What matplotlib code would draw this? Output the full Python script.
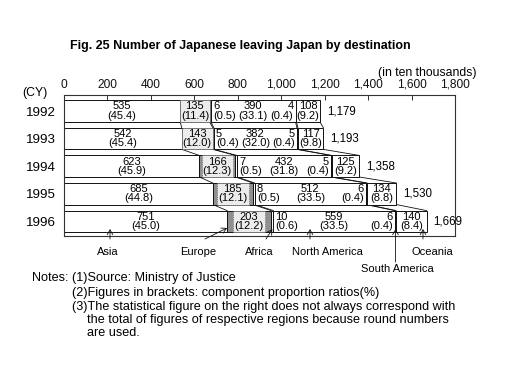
import matplotlib
matplotlib.use('Agg')
import matplotlib.pyplot as plt
from matplotlib import font_manager
import numpy as np

# ---------------- data ----------------
years = ['1992', '1993', '1994', '1995', '1996']
regions = ['Asia', 'Europe', 'Africa', 'North America', 'South America', 'Oceania']
asia = [535, 542, 623, 685, 751]
europe = [135, 143, 166, 185, 203]
africa = [6, 5, 7, 8, 10]
north_america = [390, 382, 432, 512, 559]
south_america = [4, 5, 5, 6, 6]
oceania = [108, 117, 125, 134, 140]
asia_pct = [45.4, 45.4, 45.9, 44.8, 45.0]
europe_pct = [11.4, 12.0, 12.3, 12.1, 12.2]
africa_pct = [0.5, 0.4, 0.5, 0.5, 0.6]
north_america_pct = [33.1, 32.0, 31.8, 33.5, 33.5]
south_america_pct = [0.4, 0.4, 0.4, 0.4, 0.4]
oceania_pct = [9.2, 9.8, 9.2, 8.8, 8.4]
totals = [1179, 1193, 1358, 1530, 1669]
x_ticks = [0, 200, 400, 600, 800, 1000, 1200, 1400, 1600, 1800]

title = 'Fig. 25 Number of Japanese leaving Japan by destination'
notes = ['Notes: (1)Source: Ministry of Justice',
         '(2)Figures in brackets: component proportion ratios(%)',
         '(3)The statistical figure on the right does not always correspond with',
         'the total of figures of respective regions because round numbers',
         'are used.']

# ---------------- fonts ----------------
avail = {f.name for f in font_manager.fontManager.ttflist}
base_font = 'Liberation Sans' if 'Liberation Sans' in avail else 'DejaVu Sans'
title_font = 'Liberation Sans Narrow' if 'Liberation Sans Narrow' in avail else base_font
plt.rcParams['font.family'] = [base_font, 'DejaVu Sans']

W, H = 521, 369
fig = plt.figure(figsize=(W / 100, H / 100), dpi=100)
fig.patch.set_facecolor('white')

def fx(px):
    return px / W

def fy(py):
    return 1 - py / H

ax_l, ax_r, ax_t, ax_b = 64, 455, 95, 236
ax = fig.add_axes([fx(ax_l), fy(ax_b), (ax_r - ax_l) / W, (ax_b - ax_t) / H])

series = [asia, europe, africa, north_america, south_america, oceania]
colors = ['white', '#8f8f8f', 'white', 'white', '#1a1a1a', 'white']

data = np.array(series, dtype=float)           # (6, 5)
cum = np.cumsum(data, axis=0)                  # ends of segments
starts = cum - data
y = np.arange(len(years))
h = 0.78

for k in range(len(regions)):
    ax.barh(y, data[k], left=starts[k], height=h, color=colors[k],
            edgecolor='#111111', linewidth=0.7, zorder=2)

# connecting lines between consecutive bars
for i in range(len(years) - 1):
    for k in range(len(regions)):
        ax.plot([cum[k, i], cum[k, i + 1]], [y[i] + h / 2, y[i + 1] - h / 2],
                color='#111111', lw=0.6, zorder=1)

fs = 8.0
def lab(v, p):
    return f'{v}\n({p:.1f})'

for i in range(len(years)):
    ax.text(starts[0, i] + data[0, i] / 2, y[i], lab(asia[i], asia_pct[i]),
            ha='center', va='center', fontsize=fs, linespacing=0.92, zorder=3)
    ax.text(starts[1, i] + data[1, i] / 2, y[i], lab(europe[i], europe_pct[i]),
            ha='center', va='center', fontsize=fs, linespacing=0.92, zorder=3,
            bbox=dict(boxstyle='square,pad=0.1', facecolor='#ececec',
                      edgecolor='#666666', linestyle=':', linewidth=0.6))
    ax.annotate(lab(africa[i], africa_pct[i]), xy=(cum[2, i], y[i]),
                xytext=(1.5, 0), textcoords='offset points',
                ha='left', va='center', fontsize=fs, linespacing=0.92, zorder=3)
    ax.text(starts[3, i] + data[3, i] / 2, y[i], lab(north_america[i], north_america_pct[i]),
            ha='center', va='center', fontsize=fs, linespacing=0.92, zorder=3)
    ax.annotate(lab(south_america[i], south_america_pct[i]), xy=(starts[4, i], y[i]),
                xytext=(-1.5, 0), textcoords='offset points',
                ha='right', va='center', fontsize=fs, linespacing=0.92, zorder=3)
    ax.text(starts[5, i] + data[5, i] / 2, y[i], lab(oceania[i], oceania_pct[i]),
            ha='center', va='center', fontsize=fs, linespacing=0.92, zorder=3)
    ax.annotate(f'{totals[i]:,}', xy=(totals[i], y[i]), xytext=(5, 0),
                textcoords='offset points', ha='left', va='center',
                fontsize=fs + 0.3, zorder=3)

ax.set_xlim(0, 1800)
ax.set_ylim(4.53, -0.58)
ax.xaxis.tick_top()
ax.set_xticks(x_ticks)
ax.set_xticklabels([f'{t:,}' for t in x_ticks])
ax.tick_params(axis='x', direction='in', length=3.6, width=0.6, pad=3,
               labelsize=8.6, colors='#111111')
ax.set_yticks(y)
ax.set_yticklabels(years)
ax.tick_params(axis='y', length=0, pad=6, labelsize=9.6)
for s in ax.spines.values():
    s.set_linewidth(0.8)
    s.set_color('#333333')

# ---------------- region annotations ----------------
def py2d(py):
    y0, y1 = ax.get_ylim()
    return y1 + (py - ax_t) / (ax_b - ax_t) * (y0 - y1)

def px2d(px):
    return (px - ax_l) / (ax_r - ax_l) * 1800

arrow = dict(arrowstyle='->,head_length=0.35,head_width=0.2', lw=0.6, color='#111111',
             shrinkA=0, shrinkB=0)
last = len(years) - 1
ann = [
    ('Asia', 108, 252, px2d(110), 239, px2d(110), 229),
    ('Europe', 198, 252, px2d(205), 239, starts[1, last], 228),
    ('Africa', 259, 252, px2d(266), 239, starts[2, last] + data[2, last] / 2, 229),
    ('North America', 327, 252, px2d(310), 239, px2d(310), 229),
    ('South America', 397, 269, starts[4, last] + data[4, last] / 2, 262,
     starts[4, last] + data[4, last] / 2, 229),
    ('Oceania', 432, 252, px2d(423), 239, px2d(423), 229),
]
for name, lx, ly, bx, by, tx, ty in ann:
    ax.annotate('', xy=(tx, py2d(ty)), xytext=(bx, py2d(by)),
                arrowprops=arrow, annotation_clip=False)
    fig.text(fx(lx), fy(ly), name, ha='center', va='center', fontsize=8.0)

# ---------------- figure texts ----------------
fig.text(fx(70), fy(46), title, ha='left', va='center', fontsize=9.0,
         fontweight='bold', family=[title_font, 'DejaVu Sans'])
fig.text(fx(477), fy(73), '(in ten thousands)', ha='right', va='center', fontsize=8.8)
fig.text(fx(22), fy(93), '(CY)', ha='left', va='center', fontsize=8.8)

note_pos = [(32, 278), (72, 293), (72, 307), (87, 320), (87, 333)]
for (nx, ny), t in zip(note_pos, notes):
    fig.text(fx(nx), fy(ny), t, ha='left', va='center', fontsize=9.1)

fig.savefig('out.png', dpi=100, facecolor='white')
